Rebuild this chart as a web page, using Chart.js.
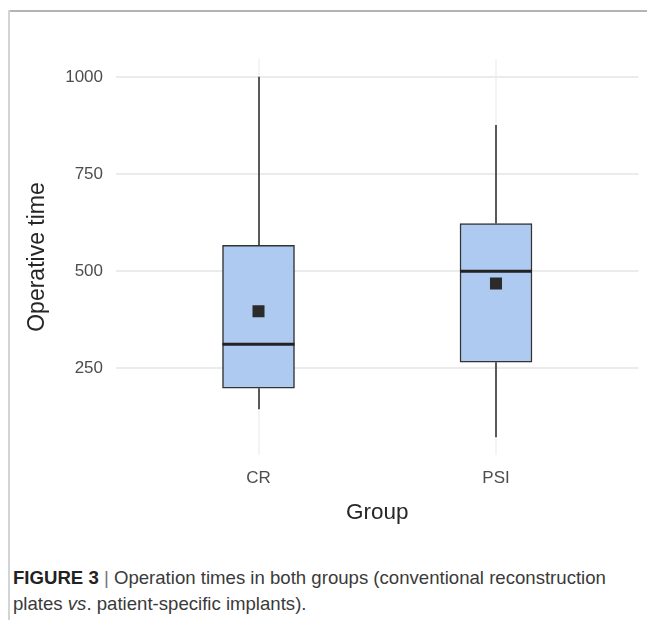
<!DOCTYPE html>
<html>
<head>
<meta charset="utf-8">
<title>Operative time by group</title>
<script src="https://cdn.jsdelivr.net/npm/chart.js@4/dist/chart.umd.min.js"></script>
<style>
  html, body { margin: 0; padding: 0; background: #fff; }
  #wrap { position: relative; width: 647px; height: 620px; overflow: hidden; }
  #frameTop { position: absolute; left: 8px; top: 10px; right: 0; height: 2px; background: #b4b4b4; }
  #frameLeft { position: absolute; left: 8px; top: 10px; width: 2px; bottom: 0; background: #d4d4d4; }
  #chart { position: absolute; left: 0; top: 0; }
  #caption {
    position: absolute; left: 13px; top: 565px; width: 632px;
    font-family: 'Liberation Sans', Arial, sans-serif; font-size: 18.6px; line-height: 26px;
    color: #3a3a3a; white-space: nowrap;
  }
  #caption b { color: #222; }
  #caption .sep { color: #777; }
</style>
</head>
<body>
<div id="wrap">
  <div id="frameTop"></div>
  <div id="frameLeft"></div>
  <canvas id="chart" width="647" height="540"></canvas>
  <div id="caption"><b>FIGURE 3</b> <span class="sep">|</span> Operation times in both groups (conventional reconstruction<br>plates <i>vs</i>. patient-specific implants).</div>
</div>
<script>
// Five-number summaries and means of operative time per group
const groups = ['CR', 'PSI'];
const whiskerLow = [144, 72];
const q1 = [198, 265];
const median = [311, 499];
const q3 = [566, 622];
const whiskerHigh = [1000, 876];
const means = [396, 468];
const yTicks = [250, 500, 750, 1000];

const FONT = "'Liberation Sans', Arial, Helvetica, sans-serif";
Chart.defaults.font.family = FONT;

// Whiskers are drawn under the boxes, medians right after the boxes
const boxParts = {
  id: 'boxParts',
  beforeDatasetsDraw(chart) {
    const { ctx, scales: { x, y } } = chart;
    ctx.save();
    ctx.strokeStyle = '#333';
    ctx.lineWidth = 1.6;
    groups.forEach((g, i) => {
      const px = Math.round(x.getPixelForValue(i + 1));
      ctx.beginPath();
      ctx.moveTo(px, y.getPixelForValue(whiskerHigh[i]));
      ctx.lineTo(px, y.getPixelForValue(q3[i]));
      ctx.moveTo(px, y.getPixelForValue(q1[i]));
      ctx.lineTo(px, y.getPixelForValue(whiskerLow[i]));
      ctx.stroke();
    });
    ctx.restore();
  },
  afterDatasetDraw(chart, args) {
    if (args.index !== 0) return;
    const { ctx, scales: { y } } = chart;
    ctx.save();
    ctx.strokeStyle = '#222';
    ctx.lineWidth = 3;
    args.meta.data.forEach((bar, i) => {
      const half = bar.width / 2;
      const py = y.getPixelForValue(median[i]);
      ctx.beginPath();
      ctx.moveTo(bar.x - half, py);
      ctx.lineTo(bar.x + half, py);
      ctx.stroke();
    });
    ctx.restore();
  }
};

new Chart(document.getElementById('chart'), {
  type: 'bar',
  data: {
    datasets: [
      {
        label: 'IQR',
        order: 2,
        data: groups.map((g, i) => ({ x: i + 1, y: [q1[i], q3[i]] })),
        backgroundColor: '#aecaf1',
        borderColor: '#333',
        borderWidth: 1.5,
        borderSkipped: false,
        barThickness: 72,
        grouped: false
      },
      {
        type: 'line',
        label: 'Mean',
        order: 1,
        data: groups.map((g, i) => ({ x: i + 1, y: means[i] })),
        showLine: false,
        pointStyle: 'rect',
        pointRadius: 8.5,
        pointBorderWidth: 0,
        pointBackgroundColor: '#2b2b2b',
        pointBorderColor: '#2b2b2b'
      }
    ]
  },
  options: {
    responsive: false,
    animation: false,
    devicePixelRatio: 1,
    layout: { padding: { left: 0, right: 7, top: 59, bottom: 0 } },
    plugins: { legend: { display: false }, tooltip: { enabled: false } },
    scales: {
      x: {
        type: 'linear',
        min: 0.4,
        max: 2.6,
        offset: false,
        afterBuildTicks: s => { s.ticks = groups.map((g, i) => ({ value: i + 1 })); },
        afterFit: s => { s.height = 85; },
        ticks: {
          callback: v => groups[v - 1] ?? '',
          padding: 13,
          maxRotation: 0,
          autoSkip: false,
          color: '#4d4d4d',
          font: { size: 17 }
        },
        grid: { color: '#f4f4f4', lineWidth: 2, drawTicks: false, offset: false },
        border: { display: false },
        title: {
          display: true,
          text: 'Group',
          color: '#262626',
          font: { size: 22.5 },
          padding: { top: 0, bottom: 14 }
        }
      },
      y: {
        min: 26,
        max: 1046,
        afterBuildTicks: s => { s.ticks = yTicks.map(v => ({ value: v })); },
        afterFit: s => { s.width = 116; },
        ticks: {
          callback: v => String(v),
          padding: 13,
          color: '#4d4d4d',
          font: { size: 17 }
        },
        grid: { color: '#ebebeb', lineWidth: 2, drawTicks: false },
        border: { display: false },
        title: {
          display: true,
          text: 'Operative time',
          color: '#262626',
          font: { size: 23 },
          padding: { top: 24, bottom: 0 }
        }
      }
    }
  },
  plugins: [boxParts]
});
</script>
</body>
</html>
